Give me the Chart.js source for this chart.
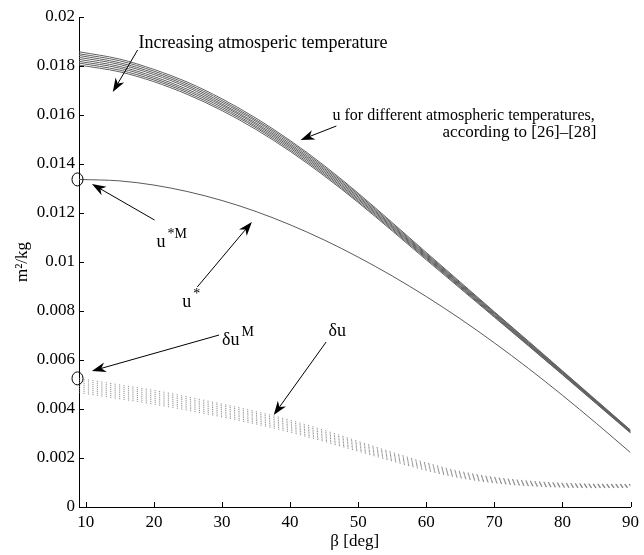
<!DOCTYPE html>
<html>
<head>
<meta charset="utf-8">
<script src="https://cdn.jsdelivr.net/npm/chart.js@4.4.0/dist/chart.umd.min.js"></script>
<style>
  html, body { margin: 0; padding: 0; background: #fff; }
  #wrap { width: 644px; height: 555px; }
</style>
</head>
<body>
<div id="wrap"><canvas id="uChart" width="644" height="555"></canvas></div>
<script>
// --- Data ---
// elevation angle samples (deg)
const beta = [9, 15, 20, 25, 30, 35, 40, 45, 50, 55, 60, 65, 70, 75, 80, 85, 90];

// u (m^2/kg) for eight atmospheric temperatures, coldest first
const uT1 = [0.01858, 0.01828, 0.01786, 0.01733, 0.01666, 0.01587, 0.01496, 0.01394, 0.01281, 0.01161, 0.01039, 0.00918, 0.00797, 0.00677, 0.00556, 0.00435, 0.00314];
const uT2 = [0.01850, 0.01821, 0.01779, 0.01726, 0.01659, 0.01580, 0.01490, 0.01388, 0.01276, 0.01156, 0.01034, 0.00914, 0.00794, 0.00674, 0.00554, 0.00433, 0.00312];
const uT3 = [0.01843, 0.01813, 0.01772, 0.01719, 0.01652, 0.01574, 0.01483, 0.01382, 0.01270, 0.01151, 0.01030, 0.00910, 0.00791, 0.00671, 0.00551, 0.00431, 0.00311];
const uT4 = [0.01835, 0.01806, 0.01765, 0.01712, 0.01645, 0.01567, 0.01477, 0.01376, 0.01265, 0.01146, 0.01026, 0.00907, 0.00788, 0.00668, 0.00549, 0.00429, 0.00309];
const uT5 = [0.01827, 0.01798, 0.01757, 0.01704, 0.01639, 0.01561, 0.01471, 0.01370, 0.01259, 0.01142, 0.01022, 0.00903, 0.00784, 0.00666, 0.00547, 0.00427, 0.00307];
const uT6 = [0.01819, 0.01791, 0.01750, 0.01697, 0.01632, 0.01554, 0.01465, 0.01364, 0.01254, 0.01137, 0.01018, 0.00900, 0.00781, 0.00663, 0.00545, 0.00425, 0.00305];
const uT7 = [0.01812, 0.01783, 0.01743, 0.01690, 0.01625, 0.01548, 0.01458, 0.01358, 0.01248, 0.01132, 0.01014, 0.00896, 0.00778, 0.00660, 0.00542, 0.00423, 0.00304];
const uT8 = [0.01804, 0.01776, 0.01736, 0.01683, 0.01618, 0.01541, 0.01452, 0.01352, 0.01243, 0.01127, 0.01009, 0.00892, 0.00775, 0.00658, 0.00540, 0.00421, 0.00302];

// u* (m^2/kg)
const uStar = [0.01337, 0.01331, 0.01314, 0.01287, 0.01251, 0.01206, 0.01152, 0.01090, 0.01020, 0.00943, 0.00859, 0.00768, 0.00670, 0.00566, 0.00456, 0.00341, 0.00222];

// δu (m^2/kg), same temperature order
const du1 = [0.00525, 0.00498, 0.00476, 0.00449, 0.00420, 0.00389, 0.00354, 0.00313, 0.00268, 0.00223, 0.00180, 0.00145, 0.00121, 0.00106, 0.00097, 0.00093, 0.00092];
const du2 = [0.00517, 0.00490, 0.00468, 0.00441, 0.00413, 0.00382, 0.00347, 0.00306, 0.00262, 0.00218, 0.00176, 0.00141, 0.00118, 0.00103, 0.00095, 0.00091, 0.00090];
const du3 = [0.00508, 0.00482, 0.00460, 0.00434, 0.00405, 0.00375, 0.00340, 0.00300, 0.00257, 0.00213, 0.00171, 0.00138, 0.00115, 0.00100, 0.00092, 0.00089, 0.00089];
const du4 = [0.00500, 0.00474, 0.00452, 0.00426, 0.00398, 0.00368, 0.00333, 0.00293, 0.00251, 0.00208, 0.00167, 0.00134, 0.00112, 0.00097, 0.00090, 0.00087, 0.00087];
const du5 = [0.00492, 0.00466, 0.00444, 0.00418, 0.00390, 0.00360, 0.00327, 0.00287, 0.00245, 0.00203, 0.00163, 0.00130, 0.00108, 0.00095, 0.00088, 0.00085, 0.00085];
const du6 = [0.00484, 0.00458, 0.00436, 0.00410, 0.00383, 0.00353, 0.00320, 0.00280, 0.00239, 0.00198, 0.00159, 0.00126, 0.00105, 0.00092, 0.00086, 0.00083, 0.00083];
const du7 = [0.00475, 0.00450, 0.00428, 0.00403, 0.00375, 0.00346, 0.00313, 0.00274, 0.00234, 0.00193, 0.00154, 0.00123, 0.00102, 0.00089, 0.00083, 0.00081, 0.00082];
const du8 = [0.00467, 0.00442, 0.00420, 0.00395, 0.00368, 0.00339, 0.00306, 0.00268, 0.00228, 0.00188, 0.00150, 0.00119, 0.00099, 0.00087, 0.00081, 0.00079, 0.00080];

// axis ticks
const xTicks = [10, 20, 30, 40, 50, 60, 70, 80, 90];
const yTicks = [0, 0.002, 0.004, 0.006, 0.008, 0.01, 0.012, 0.014, 0.016, 0.018, 0.02];

// --- Annotations (data units) ---
const arrows = [
  [17.61, 0.018653, 13.96, 0.016939],  // increasing temperature
  [46.80, 0.015551, 41.55, 0.014980],  // u family
  [20.09, 0.011714, 10.90, 0.013184],  // u*M
  [26.37, 0.008980, 34.39, 0.011633],  // u*
  [29.58, 0.007020, 10.90, 0.005551],  // δu^M
  [45.30, 0.006735, 37.60, 0.003755]   // δu
];
// [x, y, text, superscript, align, font size]
const labels = [
  [17.75, 0.018735, 'Increasing atmosperic temperature', '', 'left', 18],
  [84.75, 0.015796, 'u for different atmospheric temperatures,', '', 'right', 16],
  [85.00, 0.015102, 'according to [26]\u2013[28]', '', 'right', 17],
  [20.38, 0.010612, 'u', '*M', 'left', 18],
  [24.18, 0.008163, 'u', '*', 'left', 18],
  [30.02, 0.006612, '\u03b4u', 'M', 'left', 18],
  [45.63, 0.006980, '\u03b4u', '', 'left', 18]
];
// circled starting values at β = 9 deg
const circled = [uStar[0], du1[0]];

const FONT = '"Liberation Serif", "DejaVu Serif", serif';

function series(ys) {
  return ys.map((y, i) => ({ x: beta[i], y: y }));
}

const datasets = [];
[uT1, uT2, uT3, uT4, uT5, uT6, uT7, uT8].forEach((ys, i) => {
  datasets.push({
    label: 'u T' + (i + 1),
    data: series(ys),
    borderColor: '#606060',
    borderWidth: 1,
    pointRadius: 0,
    cubicInterpolationMode: 'monotone'
  });
});
datasets.push({
  label: 'u*',
  data: series(uStar),
  borderColor: '#5a5a5a',
  borderWidth: 1,
  pointRadius: 0,
  cubicInterpolationMode: 'monotone'
});
[du1, du2, du3, du4, du5, du6, du7, du8].forEach((ys, i) => {
  datasets.push({
    label: 'du T' + (i + 1),
    data: series(ys),
    borderColor: 'rgba(110,110,110,0.75)',
    borderWidth: 1,
    borderDash: [1.2, 3.3],
    pointRadius: 0,
    cubicInterpolationMode: 'monotone'
  });
});

// inward tick marks, circles, arrows and text labels
const annotate = {
  id: 'annotate',
  afterDraw(chart) {
    const { ctx, chartArea: a, scales: { x, y } } = chart;
    ctx.save();
    ctx.strokeStyle = '#000';
    ctx.fillStyle = '#000';
    ctx.lineWidth = 1;

    // ticks pointing into the plot
    ctx.beginPath();
    yTicks.forEach(v => {
      const py = Math.round(y.getPixelForValue(v)) + 0.5;
      ctx.moveTo(a.left, py);
      ctx.lineTo(a.left + 5, py);
    });
    xTicks.forEach(v => {
      const px = Math.round(x.getPixelForValue(v)) + 0.5;
      ctx.moveTo(px, a.bottom);
      ctx.lineTo(px, a.bottom - 5);
    });
    ctx.stroke();

    // circles
    circled.forEach(v => {
      ctx.beginPath();
      ctx.ellipse(a.left - 1.5, y.getPixelForValue(v), 5.5, 6.5, 0, 0, Math.PI * 2);
      ctx.stroke();
    });

    // arrows
    arrows.forEach(([x1, y1, x2, y2]) => {
      const p1 = [x.getPixelForValue(x1), y.getPixelForValue(y1)];
      const p2 = [x.getPixelForValue(x2), y.getPixelForValue(y2)];
      const ang = Math.atan2(p2[1] - p1[1], p2[0] - p1[0]);
      const len = 14, w = 5;
      ctx.beginPath();
      ctx.moveTo(p1[0], p1[1]);
      ctx.lineTo(p2[0] - Math.cos(ang) * len * 0.6, p2[1] - Math.sin(ang) * len * 0.6);
      ctx.stroke();
      ctx.save();
      ctx.translate(p2[0], p2[1]);
      ctx.rotate(ang);
      ctx.beginPath();
      ctx.moveTo(0, 0);
      ctx.lineTo(-len, -w);
      ctx.lineTo(-len * 0.7, 0);
      ctx.lineTo(-len, w);
      ctx.closePath();
      ctx.fill();
      ctx.restore();
    });

    // labels
    ctx.textBaseline = 'alphabetic';
    labels.forEach(([lx, ly, txt, sup, align, size]) => {
      const px = x.getPixelForValue(lx);
      const py = y.getPixelForValue(ly);
      ctx.font = size + 'px ' + FONT;
      ctx.textAlign = align;
      ctx.fillText(txt, px, py);
      if (sup) {
        const wBase = ctx.measureText(txt).width;
        ctx.font = Math.round(size * 0.75) + 'px ' + FONT;
        ctx.textAlign = 'left';
        ctx.fillText(sup, px + wBase + 2, py - 9);
      }
    });
    ctx.restore();
  }
};

const ctx = document.getElementById('uChart').getContext('2d');
const uChart = new Chart(ctx, {
  type: 'line',
  data: { datasets: datasets },
  options: {
    responsive: false,
    animation: false,
    events: [],
    layout: { padding: { top: 17, right: 10, left: 0, bottom: 0 } },
    plugins: {
      legend: { display: false },
      tooltip: { enabled: false }
    },
    scales: {
      x: {
        type: 'linear',
        min: 9,
        max: 90,
        afterBuildTicks: axis => { axis.ticks = xTicks.map(v => ({ value: v })); },
        afterFit: axis => { axis.height = 48; },
        grid: { display: false, drawTicks: false },
        border: { display: true, color: '#000', width: 1 },
        ticks: {
          color: '#000',
          padding: 5,
          maxRotation: 0,
          font: { family: FONT, size: 17 },
          callback: v => String(v)
        },
        title: {
          display: true,
          text: '\u03b2 [deg]',
          color: '#000',
          font: { family: FONT, size: 17 },
          padding: { top: 0, bottom: 3 }
        }
      },
      y: {
        type: 'linear',
        min: 0,
        max: 0.02,
        afterBuildTicks: axis => { axis.ticks = yTicks.map(v => ({ value: v })); },
        afterFit: axis => { axis.width = 79; },
        grid: { display: false, drawTicks: false },
        border: { display: true, color: '#000', width: 1 },
        ticks: {
          color: '#000',
          padding: 4,
          font: { family: FONT, size: 17 },
          callback: v => String(parseFloat(v.toFixed(3)))
        },
        title: {
          display: true,
          text: 'm\u00b2/kg',
          color: '#000',
          font: { family: FONT, size: 17 },
          padding: { top: 12, bottom: 0 }
        }
      }
    }
  },
  plugins: [annotate]
});
</script>
</body>
</html>
